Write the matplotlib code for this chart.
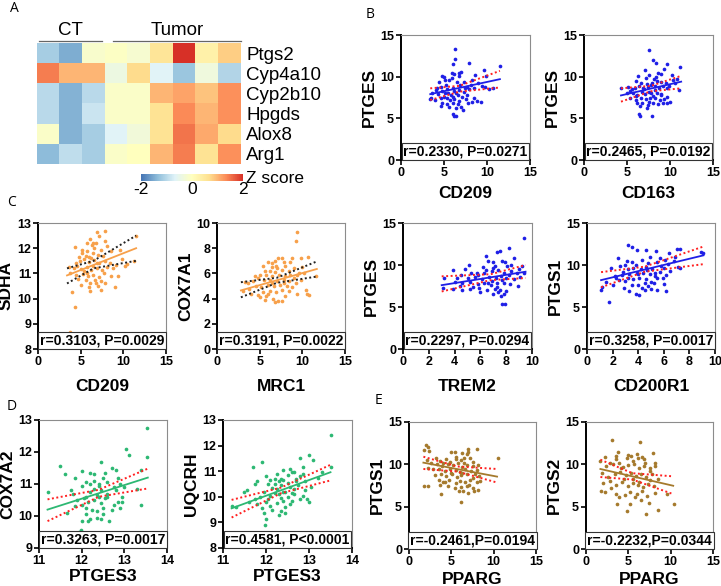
import matplotlib
matplotlib.use("Agg")
import matplotlib.pyplot as plt
import numpy as np
from matplotlib.colors import LinearSegmentedColormap

plt.rcParams['font.family'] = ['Liberation Sans', 'DejaVu Sans']

# ---------------- data ----------------
genes = ["Ptgs2", "Cyp4a10", "Cyp2b10", "Hpgds", "Alox8", "Arg1"]
groups = ["CT", "Tumor"]
zscores = [
    [-1.15, -1.5, -0.15, -0.05, -0.2, 0.55, 2.0, 0.3, 0.8],
    [1.45, 1.0, 1.0, -0.4, 0.7, -0.65, -1.25, -0.35, -1.05],
    [-1.0, -1.45, -1.0, -0.1, -0.1, 1.0, 1.15, 0.9, 1.3],
    [-1.0, -1.45, -0.85, -0.1, -0.1, 0.6, 1.35, 1.0, 1.3],
    [-0.1, -1.45, -1.15, -0.65, -0.3, 0.6, 1.5, 1.1, 0.7],
    [-1.35, -0.95, -1.15, -0.1, 0.0, 1.0, 1.45, 0.6, 1.3],
]

# B: PTGES vs CD209 / CD163
b1_points = [(6.3,13.3),(6.3,12.1),(6.0,11.5),(7.9,11.7),(11.5,11.3),(9.6,10.8),(7.0,10.6),(6.8,10.4),(5.9,10.5),
             (6.2,10.3),(4.8,10.1),(5.0,10.0),(8.6,10.2),(10.2,8.5),(4.4,9.4),(5.6,9.6),(7.3,9.4),(6.5,9.4),(6.9,9.0),
             (5.2,9.0),(4.6,8.8),(6.0,8.7),(7.7,8.8),(8.1,9.0),(9.0,9.2),(9.4,8.9),(4.1,8.4),(4.8,8.3),(5.4,8.5),(6.2,8.3),
             (6.8,8.4),(7.3,8.2),(7.9,8.5),(8.5,8.7),(3.6,8.0),(4.3,7.9),(5.0,7.6),(5.8,7.8),(6.6,7.8),(7.1,7.6),(7.7,7.8),
             (8.5,7.5),(3.5,7.5),(3.9,7.2),(4.6,7.4),(5.3,7.4),(5.7,7.2),(6.2,7.3),(6.8,7.1),(7.5,7.3),(8.3,7.0),(8.8,7.1),
             (9.3,7.0),(4.8,6.8),(5.4,6.7),(6.0,6.9),(6.6,6.7),(7.0,6.4),(7.8,6.8),(4.6,6.5),(5.6,6.4),(6.4,6.2),(7.2,6.0),
             (6.0,5.5),(6.2,5.3),(6.4,5.3),(3.4,7.3),(4.2,8.6),(5.9,9.9),(6.7,10.1),(5.1,9.6),(8.3,9.6),(9.9,10.1),
             (10.7,8.6),(9.8,8.8),(6.4,8.0),(5.5,8.1),(7.4,8.7),(6.1,7.6),(5.1,8.1)]
b1_fit = [(3.4, 7.9), (11.5, 9.7)]
b1_band_x = [3.4, 6.8, 11.5]
b1_band_hi = [8.6, 8.9, 10.7]
b1_band_lo = [7.2, 8.2, 8.7]

b2_points = [(7.6,13.2),(8.0,12.0),(8.4,11.6),(9.7,11.5),(11.2,11.2),(9.3,10.9),(7.1,10.8),(8.6,10.5),(8.9,10.3),
             (6.3,10.1),(10.2,10.2),(7.5,10.2),(7.2,9.8),(6.1,9.5),(8.1,9.7),(8.5,9.5),(9.0,9.4),(9.5,9.3),(10.4,9.6),
             (10.8,9.7),(4.3,8.7),(5.1,8.8),(5.6,8.5),(6.4,8.9),(6.9,8.6),(7.4,8.8),(7.8,9.0),(8.2,8.9),(8.7,8.7),(9.2,8.9),
             (9.6,8.6),(11.1,8.4),(5.0,8.0),(5.7,8.0),(6.2,7.8),(6.7,8.2),(7.1,7.9),(7.6,8.2),(8.0,7.7),(8.5,8.0),(9.0,7.8),
             (9.6,7.6),(5.4,7.5),(6.0,7.2),(6.6,7.5),(7.2,7.3),(7.7,7.5),(8.3,7.4),(8.8,7.2),(9.3,7.3),(6.2,6.9),(6.8,6.8),
             (7.4,6.6),(8.0,6.8),(8.6,6.7),(9.2,6.9),(9.7,6.8),(10.0,7.0),(6.5,6.5),(7.3,6.2),(6.4,5.5),(6.5,5.3),(7.9,5.3),
             (7.0,8.5),(8.2,8.4),(7.8,8.1),(5.9,8.7),(6.6,9.2),(7.9,9.3),(8.4,10.0),(7.3,9.1),(6.0,7.7),(9.9,8.9),
             (10.6,9.3),(5.3,8.3),(7.5,7.0),(8.9,7.9)]
b2_fit = [(4.3, 7.75), (11.3, 9.4)]
b2_band_x = [4.3, 7.8, 11.3]
b2_band_hi = [8.6, 8.9, 10.1]
b2_band_lo = [7.0, 8.25, 8.6]

# C: SDHA vs CD209, COX7A1 vs MRC1, PTGES vs TREM2, PTGS1 vs CD200R1
c1_points = [(4.3,12.03),(5.8,12.2),(6.1,12.36),(6.9,12.63),(7.9,12.7),(7.2,12.47),(6.3,12.14),(6.8,12.2),(7.8,12.27),
             (8.1,12.07),(5.2,11.94),(5.8,11.87),(6.4,11.8),(7.4,11.94),(8.6,11.87),(9.6,11.94),(11.5,12.5),(9.8,11.57),
             (4.9,11.5),(5.4,11.57),(6.0,11.47),(6.6,11.54),(7.2,11.43),(7.9,11.49),(8.4,11.41),(9.1,11.34),(3.6,11.25),
             (4.2,11.2),(5.0,11.17),(5.7,11.25),(6.2,11.14),(6.9,11.2),(7.5,11.12),(8.1,11.25),(10.2,11.3),(3.8,11.0),
             (4.5,10.95),(5.3,10.98),(5.9,10.88),(6.5,10.94),(7.2,10.85),(8.6,10.88),(9.4,10.88),(4.7,10.77),(5.6,10.72),
             (6.1,10.61),(6.7,10.75),(7.4,10.68),(5.0,10.55),(6.0,10.45),(7.0,10.5),(7.9,10.61),(9.0,10.48),(6.1,10.32),
             (7.4,10.35),(4.0,10.28),(4.3,9.68),(3.8,8.69),(11.3,11.51),(10.4,11.38),(4.5,11.4),(5.6,11.7),(6.0,11.67),
             (6.6,12.0),(7.0,11.74),(4.8,11.67),(6.4,11.3),(5.4,11.1),(6.8,10.6),(7.7,11.0),(5.1,11.8),(6.2,11.6),
             (7.6,11.7),(6.9,11.4),(5.8,11.0),(4.6,11.3),(8.8,11.2),(6.5,12.2)]
c1_fit = [(3.4, 10.92), (11.5, 12.0)]
c1_band_x = [3.4, 6.5, 11.5]
c1_band_hi = [11.2, 11.5, 12.5]
c1_band_lo = [10.6, 11.2, 11.5]

c2_points = [(9.4,9.3),(9.3,8.6),(7.2,7.2),(7.6,7.2),(6.8,7.0),(6.0,6.9),(6.4,6.5),(7.0,6.4),(8.0,6.6),(8.8,7.2),
             (9.8,7.2),(10.7,7.3),(5.6,6.2),(6.2,6.2),(6.8,6.1),(7.6,6.3),(8.4,6.2),(9.0,6.4),(10.0,6.5),(5.0,5.9),
             (5.8,5.9),(6.5,5.8),(7.3,5.9),(8.0,5.8),(8.6,5.9),(9.4,5.9),(10.2,6.0),(11.6,5.8),(3.3,5.3),(4.2,5.4),
             (4.8,5.6),(5.5,5.5),(6.2,5.5),(7.0,5.4),(7.8,5.5),(8.4,5.4),(9.0,5.6),(9.8,5.5),(3.0,4.6),(3.8,4.8),(4.6,5.0),
             (5.2,4.9),(6.0,5.1),(6.7,5.0),(7.4,5.1),(8.2,5.0),(8.8,4.9),(10.4,4.7),(10.6,4.4),(4.0,4.4),(4.8,4.3),
             (5.4,4.5),(6.2,4.6),(6.9,4.5),(7.6,4.7),(8.4,4.6),(9.4,4.4),(5.0,4.1),(5.8,4.2),(6.6,4.0),(7.2,3.8),(6.8,3.7),
             (7.6,3.8),(10.8,4.3),(6.5,6.8),(7.9,6.9),(5.4,6.6),(6.9,6.6),(8.6,6.9),(9.6,6.0),(4.5,5.8),(3.6,5.2),
             (6.4,5.2),(7.8,5.2),(6.0,4.4),(5.6,3.9),(8.0,4.2),(9.2,5.2)]
c2_fit = [(2.8, 4.65), (11.7, 6.35)]
c2_band_x = [2.8, 7.0, 11.7]
c2_band_hi = [5.3, 5.65, 6.95]
c2_band_lo = [4.1, 5.25, 5.75]

c3_points = [(9.4,13.2),(8.2,12.0),(7.3,11.6),(7.5,11.7),(6.4,11.1),(8.6,10.8),(7.7,10.5),(6.6,10.5),(7.0,10.3),
             (7.9,10.3),(5.1,10.0),(4.8,9.5),(6.2,9.8),(7.1,9.9),(8.1,9.9),(9.2,9.9),(3.9,9.4),(4.5,8.8),(5.3,9.0),
             (5.7,9.1),(6.4,9.4),(6.9,9.3),(7.4,9.4),(7.8,9.0),(8.4,9.3),(8.8,9.0),(9.4,9.1),(3.2,8.4),(4.2,8.5),(5.0,8.4),
             (5.6,8.6),(6.1,8.3),(6.7,8.6),(7.2,8.5),(7.6,8.7),(8.0,8.5),(8.6,8.3),(9.1,8.6),(4.6,7.9),(5.2,8.0),(5.8,7.7),
             (6.3,7.9),(6.8,7.6),(7.3,7.8),(7.8,7.9),(8.3,7.7),(8.9,7.5),(3.1,7.3),(3.9,7.2),(4.6,7.0),(5.2,7.1),(5.9,7.3),
             (6.5,7.0),(7.1,7.2),(7.5,7.0),(8.0,6.9),(5.4,7.4),(6.0,6.8),(7.0,6.6),(7.4,6.8),(7.8,6.5),(7.6,6.3),(7.7,5.4),
             (7.9,5.3),(6.9,8.1),(7.7,8.2),(8.2,8.8),(6.3,9.0),(4.0,8.0),(4.4,7.5),(5.8,8.8),(7.0,9.7),(8.4,10.0),
             (9.0,9.5),(6.6,7.8),(7.3,7.4)]
c3_fit = [(3.0, 7.6), (9.5, 9.2)]
c3_band_x = [3.0, 6.8, 9.5]
c3_band_hi = [8.65, 8.9, 10.0]
c3_band_lo = [6.85, 8.2, 8.45]

c4_points = [(3.2,12.4),(3.5,12.1),(3.9,11.8),(4.6,11.8),(5.4,11.7),(7.0,11.9),(7.3,11.9),(6.4,11.4),(2.4,10.8),
             (3.1,10.5),(3.5,10.3),(4.3,10.6),(4.9,10.9),(5.5,10.4),(6.1,10.6),(6.8,10.5),(8.9,11.5),(9.1,11.4),(1.9,9.6),
             (2.6,9.9),(3.2,9.5),(3.8,10.0),(4.2,9.5),(4.6,9.8),(5.1,9.5),(5.8,9.9),(6.3,10.1),(7.1,9.8),(1.2,7.4),
             (1.5,8.0),(2.2,8.7),(2.7,8.8),(3.3,8.9),(3.9,9.1),(4.4,9.0),(4.9,8.9),(5.3,9.1),(5.7,9.2),(6.5,9.3),(7.3,9.6),
             (1.1,7.0),(2.0,7.6),(2.5,8.2),(3.0,8.1),(3.6,8.3),(4.1,8.5),(4.6,8.3),(5.0,8.0),(5.5,8.4),(6.2,8.8),(2.9,7.3),
             (3.5,7.6),(4.0,7.6),(4.5,7.9),(4.8,7.5),(5.2,7.8),(4.3,7.3),(5.0,7.2),(5.5,7.0),(6.0,7.7),(3.3,6.9),(3.8,6.5),
             (4.1,6.4),(6.2,6.9),(1.7,5.6),(2.8,9.2),(3.6,9.7),(4.8,10.2),(5.7,10.8),(6.0,9.6),(6.9,10.9),(4.0,8.9),
             (3.2,8.5),(5.9,8.5),(2.3,8.4),(4.5,7.0),(5.3,8.7),(4.7,9.4),(3.0,10.0)]
c4_fit = [(1.1, 8.2), (9.1, 11.15)]
c4_band_x = [1.1, 4.5, 9.1]
c4_band_hi = [9.15, 9.8, 12.2]
c4_band_lo = [7.35, 9.2, 10.1]

# D: COX7A2 / UQCRH vs PTGES3
d1_points = [(13.52,12.75),(13.52,11.85),(13.05,12.1),(13.1,11.9),(11.5,11.55),(11.6,11.3),(12.45,11.7),(13.4,10.35),
             (11.2,10.75),(11.85,11.2),(12.0,11.4),(12.2,11.35),(12.3,11.3),(12.5,11.2),(12.7,11.5),(12.8,11.45),
             (13.4,11.45),(11.8,10.7),(12.0,10.95),(12.1,11.05),(12.3,11.1),(12.4,10.95),(12.6,11.05),(12.9,11.0),
             (13.0,10.9),(11.9,10.5),(12.1,10.6),(12.2,10.75),(12.35,10.65),(12.45,10.8),(12.6,10.7),(12.8,10.8),
             (12.95,10.6),(11.85,10.3),(12.0,10.35),(12.15,10.45),(12.3,10.5),(12.45,10.4),(12.55,10.55),(12.75,10.35),
             (12.85,10.45),(12.25,10.2),(12.35,10.15),(12.5,10.25),(12.7,10.2),(12.9,10.25),(12.1,10.05),(12.2,9.9),
             (12.35,9.95),(12.5,10.05),(12.65,9.85),(12.0,9.85),(12.15,9.85),(11.98,9.55),(11.93,9.5),(12.45,9.9),
             (12.6,10.6),(12.4,11.0),(12.2,11.0),(12.75,10.9),(11.65,10.1),(11.75,10.8),(12.05,10.55),(12.3,10.85),
             (12.85,11.2),(13.3,10.85),(12.55,11.35),(12.95,10.45),(12.1,10.25),(12.4,10.6)]
d1_fit = [(11.2, 10.2), (13.55, 11.2)]
d1_band_x = [11.2, 12.4, 13.55]
d1_band_hi = [10.52, 10.82, 11.48]
d1_band_lo = [9.84, 10.6, 10.86]

d2_points = [(13.5,12.4),(13.0,11.65),(13.1,11.45),(12.8,11.5),(11.9,11.35),(11.7,11.15),(12.4,11.05),(12.55,11.1),
             (12.85,11.15),(12.6,10.95),(12.85,10.9),(13.3,10.95),(13.5,11.15),(11.5,10.2),(11.55,10.25),(11.75,10.5),
             (11.8,10.6),(11.95,10.2),(12.05,10.5),(12.1,10.65),(12.15,10.35),(12.2,10.7),(12.25,10.3),(12.3,10.6),
             (12.35,10.45),(12.4,10.65),(12.45,10.2),(12.5,10.55),(12.55,10.4),(12.65,10.3),(12.7,10.7),(12.75,10.45),
             (12.8,10.8),(12.9,10.6),(13.05,10.4),(13.2,10.75),(11.2,9.65),(11.3,9.6),(11.6,9.8),(11.75,9.9),(11.85,10.0),
             (11.9,9.55),(12.0,9.8),(12.05,9.9),(12.1,10.05),(12.2,10.15),(12.25,9.75),(12.3,10.1),(12.35,9.95),
             (12.4,10.2),(12.45,9.6),(12.5,10.0),(12.6,9.85),(12.65,10.1),(12.8,9.9),(12.85,10.05),(12.95,9.9),(13.0,9.8),
             (11.95,9.35),(12.0,9.15),(11.98,8.9),(12.3,9.3),(12.35,9.45),(12.45,9.35),(12.55,9.7),(12.15,9.5),(11.8,9.7),
             (12.65,10.95),(12.5,10.85),(12.25,10.9),(12.0,10.8),(12.7,10.6),(12.4,9.85),(12.2,10.5),(12.6,10.15),
             (12.9,10.25),(12.1,9.65),(12.35,10.7)]
d2_fit = [(11.2, 9.55), (13.5, 10.96)]
d2_band_x = [11.2, 12.35, 13.5]
d2_band_hi = [9.88, 10.36, 11.25]
d2_band_lo = [9.19, 10.14, 10.64]

# E: PTGS1 / PTGS2 vs PPARG
e1_points = [(2.0,12.3),(2.2,12.0),(1.8,11.7),(2.4,11.6),(5.0,11.5),(5.4,11.4),(6.3,11.3),(7.0,11.8),(7.0,11.5),
             (6.8,11.2),(8.0,11.8),(10.5,10.7),(3.2,10.7),(3.7,10.4),(4.4,10.6),(4.8,10.3),(5.6,10.9),(6.1,10.5),
             (6.5,10.2),(7.2,10.8),(7.6,10.3),(2.6,10.2),(3.3,10.0),(3.9,9.8),(4.6,10.0),(5.2,9.9),(5.8,10.1),(6.3,9.7),
             (6.9,9.9),(7.5,9.8),(8.1,9.9),(2.2,9.6),(2.8,9.5),(3.5,9.4),(4.2,9.2),(4.9,9.5),(5.5,9.3),(6.0,9.1),(6.6,9.4),
             (7.3,9.2),(8.0,9.3),(3.1,8.7),(3.8,8.9),(4.4,8.6),(5.1,8.8),(5.7,8.5),(6.2,8.7),(6.8,8.9),(7.5,8.4),(8.3,8.6),
             (3.5,8.1),(4.0,7.9),(4.7,8.2),(5.5,7.8),(6.0,8.0),(6.6,7.9),(7.2,8.1),(8.0,7.9),(8.4,8.0),(1.8,7.4),(2.3,7.4),
             (3.7,7.6),(4.6,7.4),(5.4,7.2),(6.1,7.3),(6.8,7.4),(7.6,7.2),(8.2,7.0),(5.9,6.9),(6.4,6.8),(7.0,6.6),(7.7,6.9),
             (3.8,6.5),(6.1,5.6),(2.1,10.5),(4.0,10.1),(5.5,10.6),(6.5,10.8),(7.8,8.8),(6.3,9.0),(5.0,9.0),(4.2,7.9),
             (7.1,7.6)]
e1_fit = [(1.7, 10.2), (10.4, 8.55)]
e1_band_x = [1.7, 5.7, 10.4]
e1_band_hi = [10.9, 9.75, 9.45]
e1_band_lo = [9.45, 9.15, 7.85]

e2_points = [(3.1,12.9),(6.4,12.6),(3.8,11.4),(3.6,11.0),(5.0,11.1),(5.3,11.0),(6.0,11.2),(6.6,10.9),(7.9,11.3),
             (3.6,10.6),(4.8,10.7),(5.5,10.4),(6.2,10.7),(7.0,10.2),(8.2,10.2),(2.2,10.9),(1.7,10.4),(2.4,9.8),(3.2,10.0),
             (3.9,10.2),(4.4,9.7),(5.0,9.9),(5.7,10.0),(6.3,9.6),(6.9,9.8),(7.6,9.6),(8.1,9.8),(1.9,9.0),(2.6,8.5),
             (3.4,8.8),(4.0,9.1),(4.7,8.7),(5.3,9.0),(5.9,8.6),(6.5,8.9),(7.1,8.5),(7.8,8.8),(8.5,8.3),(2.0,7.8),(2.8,8.0),
             (3.6,7.6),(4.3,7.9),(5.0,7.5),(5.6,7.8),(6.2,7.6),(6.7,7.3),(7.3,7.7),(8.0,7.4),(1.8,6.9),(2.2,6.7),(3.6,6.5),
             (3.9,6.2),(4.6,6.4),(5.2,6.7),(6.0,6.5),(6.6,6.8),(7.2,6.3),(8.1,6.6),(3.7,5.3),(5.2,5.3),(6.5,5.8),(7.4,5.4),
             (4.9,4.5),(7.1,4.1),(8.5,4.6),(10.4,5.3),(9.6,6.5),(6.3,7.9),(5.5,8.3),(4.1,9.6),(2.8,10.2),(6.8,10.6),
             (7.5,9.2),(4.5,8.3),(3.0,7.2),(5.8,6.2),(7.6,8.2)]
e2_fit = [(1.7, 9.45), (10.3, 7.47)]
e2_band_x = [1.7, 5.5, 10.3]
e2_band_hi = [10.55, 8.95, 8.58]
e2_band_lo = [8.5, 8.2, 6.48]

# ---------------- figure ----------------
W, H = 721, 586
fig = plt.figure(figsize=(W / 100, H / 100), dpi=100)


def px_axes(x0, y0, x1, y1):
    return fig.add_axes([x0 / W, 1 - y1 / H, (x1 - x0) / W, (y1 - y0) / H])


# heatmap
hm_cmap = LinearSegmentedColormap.from_list(
    "zs", ['#4575b4', '#91bfdb', '#e0f3f8', '#ffffbf', '#fee090', '#fc8d59', '#d73027'])
ax = px_axes(36.7, 43, 240.7, 164)
z = np.array(zscores)
mesh = ax.pcolormesh(np.arange(z.shape[1] + 1), np.arange(z.shape[0] + 1), z,
                     cmap=hm_cmap, vmin=-2, vmax=2)
ax.set_xlim(0, z.shape[1])
ax.set_ylim(z.shape[0], 0)
ax.set_xticks([])
ax.yaxis.tick_right()
ax.set_yticks(np.arange(len(genes)) + 0.5)
ax.set_yticklabels(genes, fontsize=13.5)
ax.tick_params(axis='y', length=0, pad=4)
for s in ax.spines.values():
    s.set_visible(False)
for (a, b), g in zip([(0.1, 2.88), (3.37, 9.0)], groups):
    ax.plot([a, b], [-0.12, -0.12], color='#666666', lw=0.9, clip_on=False)
    ax.text((a + b) / 2, -0.6, g, ha='center', va='center', fontsize=13.5)

cax = px_axes(141, 174, 243, 181)
cb = fig.colorbar(mesh, cax=cax, orientation='horizontal', ticks=[-2, 0, 2])
cb.outline.set_visible(False)
cb.ax.tick_params(length=0, labelsize=12.5, pad=1)
cb.ax.set_xticklabels(['-2', '0', '2'])
fig.text(246 / W, 1 - 178 / H, "Z score", fontsize=12.5, va='center', ha='left')


def scatter_panel(rect, pts, color, fit, bx, bhi, blo, bcolor, xlim, ylim, xticks, yticks,
                  xlabel, ylabel, note, xlab_off):
    x0, y0, x1, y1 = rect
    a = px_axes(x0, y0, x1, y1)
    pts = np.array(pts)
    a.scatter(pts[:, 0], pts[:, 1], s=7, color=color, linewidths=0, zorder=3)
    fx, fy = zip(*fit)
    a.plot(fx, fy, color=color, lw=1.3, zorder=4)
    for band in (bhi, blo):
        a.plot(bx, band, color=bcolor, lw=1.4, linestyle=(0, (1, 1.3)), zorder=4)
    a.set_xlim(*xlim)
    a.set_ylim(*ylim)
    a.set_xticks(xticks)
    a.set_yticks(yticks)
    for lab in a.get_xticklabels() + a.get_yticklabels():
        lab.set_fontweight('bold')
    a.tick_params(direction='out', length=3.5, width=1.2, labelsize=9, pad=1.5)
    for side in ('left', 'bottom'):
        a.spines[side].set_linewidth(1.4)
        a.spines[side].set_color('black')
    for side in ('top', 'right'):
        a.spines[side].set_linewidth(0.8)
        a.spines[side].set_color('#8c8c8c')
    a.set_xlabel(xlabel, fontsize=12.5, fontweight='bold')
    a.set_ylabel(ylabel, fontsize=12.5, fontweight='bold')
    hpx = y1 - y0
    wpx = x1 - x0
    a.xaxis.set_label_coords(0.5, -xlab_off / hpx)
    a.yaxis.set_label_coords(-24 / wpx, 0.5)
    a.text(0.5, 0.012, note, transform=a.transAxes, ha='center', va='bottom', fontsize=10,
           fontweight='bold', zorder=6,
           bbox=dict(boxstyle='square,pad=0.12', facecolor='white', edgecolor='#333333', lw=0.8))
    return a


blue = '#1f1fe6'
orange = '#f7a04a'
green = '#2db873'
brown = '#a57a2d'
red = '#ff2020'
black = '#222222'

p15 = [0, 5, 10, 15]
scatter_panel((401, 35, 530, 160), b1_points, blue, b1_fit, b1_band_x, b1_band_hi, b1_band_lo, red,
              (0, 15), (0, 15), p15, [0, 5, 10, 15], "CD209", "PTGES", "r=0.2330, P=0.0271", 26)
scatter_panel((584, 35, 713, 160), b2_points, blue, b2_fit, b2_band_x, b2_band_hi, b2_band_lo, red,
              (0, 15), (0, 15), p15, [0, 5, 10, 15], "CD163", "PTGES", "r=0.2465, P=0.0192", 26)

scatter_panel((38, 223, 166, 349), c1_points, orange, c1_fit, c1_band_x, c1_band_hi, c1_band_lo, black,
              (0, 15), (8, 13), p15, [8, 9, 10, 11, 12, 13], "CD209", "SDHA", "r=0.3103, P=0.0029", 30)
scatter_panel((217, 223, 345, 349), c2_points, orange, c2_fit, c2_band_x, c2_band_hi, c2_band_lo, black,
              (0, 15), (0, 10), p15, [0, 2, 4, 6, 8, 10], "MRC1", "COX7A1", "r=0.3191, P=0.0022", 30)
scatter_panel((403, 223, 532, 349), c3_points, blue, c3_fit, c3_band_x, c3_band_hi, c3_band_lo, red,
              (0, 10), (0, 15), [0, 2, 4, 6, 8, 10], [0, 5, 10, 15], "TREM2", "PTGES", "r=0.2297, P=0.0294", 30)
scatter_panel((587, 223, 715, 349), c4_points, blue, c4_fit, c4_band_x, c4_band_hi, c4_band_lo, red,
              (0, 10), (0, 15), [0, 2, 4, 6, 8, 10], [0, 5, 10, 15], "CD200R1", "PTGS1", "r=0.3258, P=0.0017", 30)

scatter_panel((39, 420, 167, 548), d1_points, green, d1_fit, d1_band_x, d1_band_hi, d1_band_lo, red,
              (11, 14), (9, 13), [11, 12, 13, 14], [9, 10, 11, 12, 13], "PTGES3", "COX7A2", "r=0.3263, P=0.0017", 21)
scatter_panel((223, 420, 352, 548), d2_points, green, d2_fit, d2_band_x, d2_band_hi, d2_band_lo, red,
              (11, 14), (8, 13), [11, 12, 13, 14], [8, 9, 10, 11, 12, 13], "PTGES3", "UQCRH", "r=0.4581, P<0.0001", 21)

scatter_panel((409, 422, 536, 549), e1_points, brown, e1_fit, e1_band_x, e1_band_hi, e1_band_lo, red,
              (0, 15), (0, 15), p15, [0, 5, 10, 15], "PPARG", "PTGS1", "r=-0.2461,P=0.0194", 23)
scatter_panel((586, 422, 713, 549), e2_points, brown, e2_fit, e2_band_x, e2_band_hi, e2_band_lo, red,
              (0, 15), (0, 15), p15, [0, 5, 10, 15], "PPARG", "PTGS2", "r=-0.2232,P=0.0344", 23)

# panel letters
for letter, (lx, ly) in zip("ABCDE", [(14, 8), (370, 15), (12, 202), (12, 407), (378, 400)]):
    fig.text(lx / W, 1 - ly / H, letter, fontsize=10, ha='center', va='center', family=['Open Sans', 'DejaVu Sans'])

fig.savefig("out.png", dpi=100)
